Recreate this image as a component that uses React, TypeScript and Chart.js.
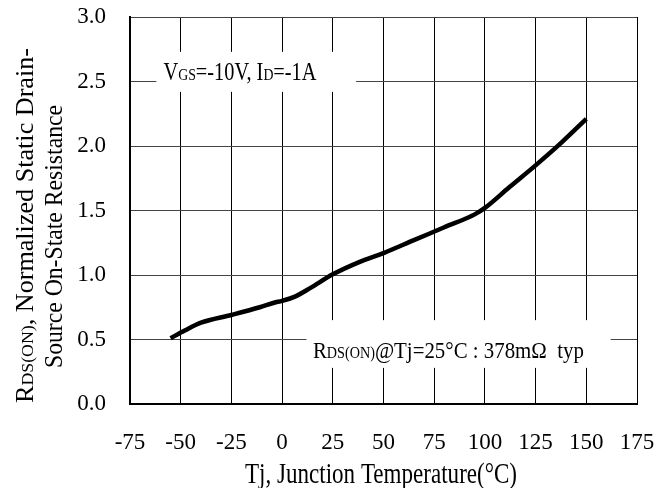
import React, { useEffect, useRef } from "react";
import { Chart, registerables } from "chart.js";

Chart.register(...registerables);

// ---- data ----
const temps = [-55, -48, -40, -25, -11, -4, 0, 6, 14, 25, 38, 50, 65, 80, 95, 100, 112, 125, 138, 150];
const rdson = [0.51, 0.57, 0.63, 0.69, 0.75, 0.785, 0.8, 0.83, 0.9, 1.005, 1.1, 1.17, 1.27, 1.37, 1.47, 1.52, 1.68, 1.85, 2.03, 2.21];
const xTickValues = [-75, -50, -25, 0, 25, 50, 75, 100, 125, 150, 175];
const yTickValues = [0, 0.5, 1.0, 1.5, 2.0, 2.5, 3.0];
const xTitle = "Tj, Junction Temperature(°C)";
const yTitleLine1: [string, number][] = [["R", 1], ["DS(ON)", 0.68], [", Normalized Static Drain-", 1]];
const yTitleLine2: [string, number][] = [["Source On-State Resistance", 1]];
const note1: [string, number][] = [["V", 1], ["GS", 0.68], ["=-10V, I", 1], ["D", 0.68], ["=-1A", 1]];
const note2: [string, number][] = [["R", 1], ["DS(ON)", 0.68], ["@Tj=25°C : 378m\u03A9  typ", 1]];

const FONT = '"Liberation Serif", "Times New Roman", serif';

function drawRich(
  ctx: CanvasRenderingContext2D,
  segs: [string, number][],
  size: number,
  x: number,
  y: number,
  targetW: number,
  align: "left" | "center"
) {
  let w = 0;
  const widths: number[] = [];
  for (const [t, s] of segs) {
    ctx.font = `${size * s}px ${FONT}`;
    const m = ctx.measureText(t).width;
    widths.push(m);
    w += m;
  }
  const sx = targetW / w;
  ctx.save();
  ctx.translate(x, y);
  ctx.scale(sx, 1);
  let cx = align === "center" ? -w / 2 : 0;
  ctx.fillStyle = "#000";
  ctx.textBaseline = "alphabetic";
  ctx.textAlign = "left";
  segs.forEach(([t, s], i) => {
    ctx.font = `${size * s}px ${FONT}`;
    ctx.fillText(t, cx, 0);
    cx += widths[i];
  });
  ctx.restore();
}

const notesPlugin = {
  id: "notes",
  beforeDatasetsDraw(chart: any) {
    const ctx = chart.ctx as CanvasRenderingContext2D;
    const xs = chart.scales.x;
    const ys = chart.scales.y;
    const box = (x0: number, x1: number, y0: number, y1: number) => {
      const px0 = xs.getPixelForValue(x0);
      const px1 = xs.getPixelForValue(x1);
      const py0 = ys.getPixelForValue(y1);
      const py1 = ys.getPixelForValue(y0);
      ctx.save();
      ctx.fillStyle = "#fff";
      ctx.fillRect(px0, py0, px1 - px0, py1 - py0);
      ctx.restore();
    };
    box(-62, 36.5, 2.42, 2.73);
    drawRich(ctx, note1, 25, xs.getPixelForValue(-58.5), ys.getPixelForValue(2.515), 153, "left");
    box(12, 162, 0.28, 0.65);
    drawRich(ctx, note2, 23.5, xs.getPixelForValue(15.2), ys.getPixelForValue(0.357), 271, "left");
  },
  afterDraw(chart: any) {
    const ctx = chart.ctx as CanvasRenderingContext2D;
    // x axis title
    drawRich(ctx, [[xTitle, 1]], 29, 381, 483, 272, "center");
    // y axis title (two lines, rotated)
    ctx.save();
    ctx.translate(33, 225.5);
    ctx.rotate(-Math.PI / 2);
    drawRich(ctx, yTitleLine1, 25, 0, 0, 355, "center");
    ctx.restore();
    ctx.save();
    ctx.translate(62, 236.5);
    ctx.rotate(-Math.PI / 2);
    drawRich(ctx, yTitleLine2, 25.5, 0, 0, 263, "center");
    ctx.restore();
  },
};

export default function App() {
  const ref = useRef<HTMLCanvasElement | null>(null);
  useEffect(() => {
    document.body.style.margin = "0";
    if (!ref.current) return;
    const chart = new Chart(ref.current, {
      type: "line",
      data: {
        datasets: [
          {
            data: temps.map((t, i) => ({ x: t, y: rdson[i] })),
            borderColor: "#000",
            borderWidth: 4.5,
            pointRadius: 0,
            cubicInterpolationMode: "monotone",
            fill: false,
          },
        ],
      },
      options: {
        animation: false,
        responsive: true,
        maintainAspectRatio: false,
        devicePixelRatio: 1,
        layout: { padding: { left: 0, top: 17, right: 28, bottom: 0 } },
        plugins: { legend: { display: false }, tooltip: { enabled: false } },
        scales: {
          x: {
            type: "linear",
            min: -75,
            max: 175,
            afterBuildTicks: (s: any) => {
              s.ticks = xTickValues.map((v) => ({ value: v }));
            },
            afterFit: (s: any) => {
              s.height = 84;
              s.paddingLeft = 0;
              s.paddingRight = 0;
              s.paddingTop = 0;
              s.paddingBottom = 0;
            },
            ticks: {
              padding: 25,
              maxRotation: 0,
              color: "#000",
              font: { family: FONT, size: 23 },
            },
            grid: { color: "#000", lineWidth: 1, drawTicks: false },
            border: { display: true, color: "#000", width: 2 },
          },
          y: {
            type: "linear",
            min: 0,
            max: 3,
            afterBuildTicks: (s: any) => {
              s.ticks = yTickValues.map((v) => ({ value: v }));
            },
            afterFit: (s: any) => {
              s.width = 130;
              s.paddingLeft = 0;
              s.paddingRight = 0;
              s.paddingTop = 0;
              s.paddingBottom = 0;
            },
            ticks: {
              padding: 24,
              color: "#000",
              font: { family: FONT, size: 23 },
              callback: (v: any) => Number(v).toFixed(1),
            },
            grid: { color: "#444", lineWidth: 1, drawTicks: false },
            border: { display: true, color: "#000", width: 2 },
          },
        },
      },
      plugins: [notesPlugin],
    });
    return () => chart.destroy();
  }, []);
  return (
    <div style={{ width: 665, height: 488, position: "relative", background: "#fff" }}>
      <canvas ref={ref} />
    </div>
  );
}
